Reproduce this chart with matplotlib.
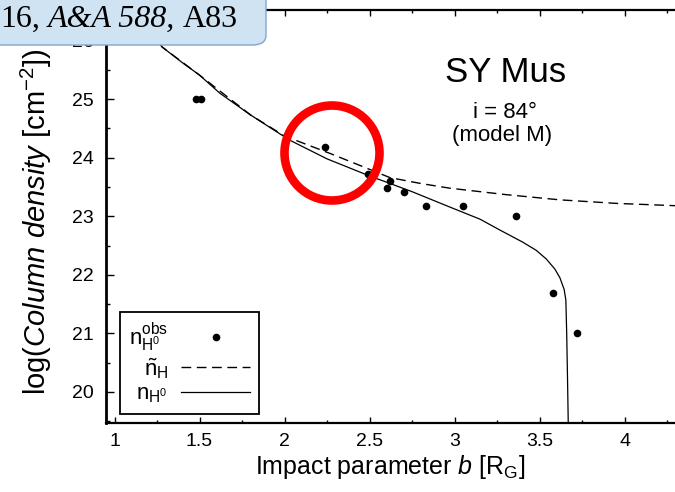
import matplotlib
matplotlib.use("Agg")
import matplotlib.pyplot as plt
from matplotlib.patches import Ellipse, FancyBboxPatch
from matplotlib.ticker import MultipleLocator

plt.rcParams["font.family"] = ["Liberation Sans", "DejaVu Sans"]
plt.rcParams["mathtext.fontset"] = "custom"
plt.rcParams["mathtext.rm"] = "Liberation Sans"
plt.rcParams["mathtext.it"] = "Liberation Sans:italic"
plt.rcParams["mathtext.bf"] = "Liberation Sans:bold"

# observed column densities
b_obs = [1.48, 1.51, 2.24, 2.49, 2.60, 2.62, 2.70, 2.83, 3.05, 3.36, 3.58, 3.72]
logn_obs = [25.0, 25.0, 24.18, 23.72, 23.48, 23.60, 23.41, 23.17, 23.17,
            23.0, 21.69, 21.0]

# model n_H0 (solid)
b_solid = [1.12, 1.20, 1.28, 1.40, 1.50, 1.62, 1.80, 2.03, 2.25, 2.49, 2.75,
           2.97, 3.15, 3.27, 3.40, 3.48, 3.54, 3.59, 3.62, 3.645, 3.655,
           3.66, 3.665, 3.67]
logn_solid = [26.6, 26.2, 25.89, 25.62, 25.41, 25.10, 24.73, 24.30, 23.98,
              23.70, 23.42, 23.16, 22.95, 22.76, 22.56, 22.42, 22.27, 22.10,
              21.95, 21.75, 21.57, 21.0, 20.2, 19.3]

# model n~_H (dashed)
b_dash = [1.12, 1.28, 1.50, 1.80, 2.00, 2.27, 2.45, 2.62, 2.80, 2.97, 3.30,
          3.62, 3.95, 4.30, 4.50]
logn_dash = [26.6, 25.89, 25.41, 24.73, 24.37, 24.07, 23.86, 23.66, 23.56,
             23.48, 23.37, 23.28, 23.22, 23.18, 23.17]

W, H = 675, 492
fig = plt.figure(figsize=(6.75, 4.92), dpi=100)
# axes runs past the right edge (cropped screenshot)
ax = fig.add_axes([106 / W, 1 - 423 / H, 603.5 / W, 413.5 / H])
ax.set_xlim(0.95, 4.5)
ax.set_ylim(19.47, 26.53)

ax.plot(b_solid, logn_solid, color="black", lw=0.9)
ax.plot(b_dash, logn_dash, color="black", lw=1.0, dashes=(7, 4))
ax.plot(b_obs, logn_obs, "o", color="black", ms=5.5, mec="none")

# legend built from proxy handles
h_obs, = ax.plot([], [], "o", color="black", ms=5.5, mec="none")
h_dash, = ax.plot([], [], color="black", lw=1.0, dashes=(7, 4))
h_sol, = ax.plot([], [], color="black", lw=0.9)
leg = ax.legend([h_obs, h_dash, h_sol],
                [r"$\mathrm{n}_{\mathrm{H}^0}^{\mathrm{obs}}$",
                 r"$\tilde{\mathrm{n}}_{\mathrm{H}}$",
                 r"$\mathrm{n}_{\mathrm{H}^0}$"],
                loc="lower left", bbox_to_anchor=(120 / W, 1 - 414 / H),
                bbox_transform=fig.transFigure, borderaxespad=0,
                markerfirst=False, numpoints=1, fontsize=16,
                handlelength=3.1, handletextpad=0.6, labelspacing=0.12,
                borderpad=0.4, fancybox=False, framealpha=1,
                edgecolor="black")
leg.get_frame().set_linewidth(1.3)

ax.xaxis.set_major_locator(MultipleLocator(0.5))
ax.xaxis.set_minor_locator(MultipleLocator(0.25))
ax.yaxis.set_major_locator(MultipleLocator(1))
ax.yaxis.set_minor_locator(MultipleLocator(0.5))
ax.set_xticks([1, 1.5, 2, 2.5, 3, 3.5, 4])
ax.set_xticklabels(["1", "1.5", "2", "2.5", "3", "3.5", "4"])
ax.tick_params(which="both", direction="in", top=True, right=False,
               labelsize=14, width=1.0)
ax.tick_params(axis="x", which="major", length=4.5, pad=7)
ax.tick_params(axis="x", which="minor", length=2.5)
ax.tick_params(axis="y", which="major", length=5.5, pad=9)
ax.tick_params(axis="y", which="minor", length=3)
ax.spines["left"].set_linewidth(2.0)
ax.spines["bottom"].set_linewidth(1.6)
ax.spines["top"].set_linewidth(1.6)
ax.spines["right"].set_visible(False)

fig.text(390 / W, 1 - 474 / H, r"Impact parameter $\mathit{b}$ [R$_{\mathrm{G}}$]",
         ha="center", va="baseline", fontsize=18)
fig.text(36 / W, 1 - 222 / H,
         r"log($\mathit{Column\ density}$ [cm$^{-2}$])",
         ha="center", va="center", rotation=90, fontsize=21)

fig.text(506 / W, 1 - 82 / H, "SY Mus", ha="center", va="baseline",
         fontsize=25)
fig.text(505 / W, 1 - 118 / H, "i = 84°", ha="center", va="baseline",
         fontsize=16)
fig.text(502 / W, 1 - 141 / H, "(model M)", ha="center", va="baseline",
         fontsize=16)

# red highlight ring
ring = Ellipse((332 / W, 1 - 153 / H), 95 / W, 95 / H,
               transform=fig.transFigure, fill=False, edgecolor="#ff0000",
               lw=6.2, zorder=20)
fig.patches.append(ring)

# citation tab in the top-left corner
tab = FancyBboxPatch((-30 / W, 1 - 45 / H), 296 / W, 80 / H,
                     boxstyle="round,pad=0,rounding_size=0.02",
                     transform=fig.transFigure, facecolor="#cfe3f3",
                     edgecolor="#7fa7cf", lw=1.0, zorder=21)
fig.patches.append(tab)

renderer = fig.canvas.get_renderer()
x = 0.0
for piece, style, gap in [("16,", "normal", 8), ("A&A 588,", "italic", 8)]:
    t = fig.text(x / W, 1 - 27 / H, piece, ha="left", va="baseline",
                 fontsize=23, family="Liberation Serif", style=style,
                 zorder=22)
    x = t.get_window_extent(renderer).x1 + gap
fig.text(x / W, 1 - 27 / H, "A83", ha="left", va="baseline",
         fontsize=23, family="Liberation Serif", zorder=22)

fig.savefig("out.png", dpi=100)
